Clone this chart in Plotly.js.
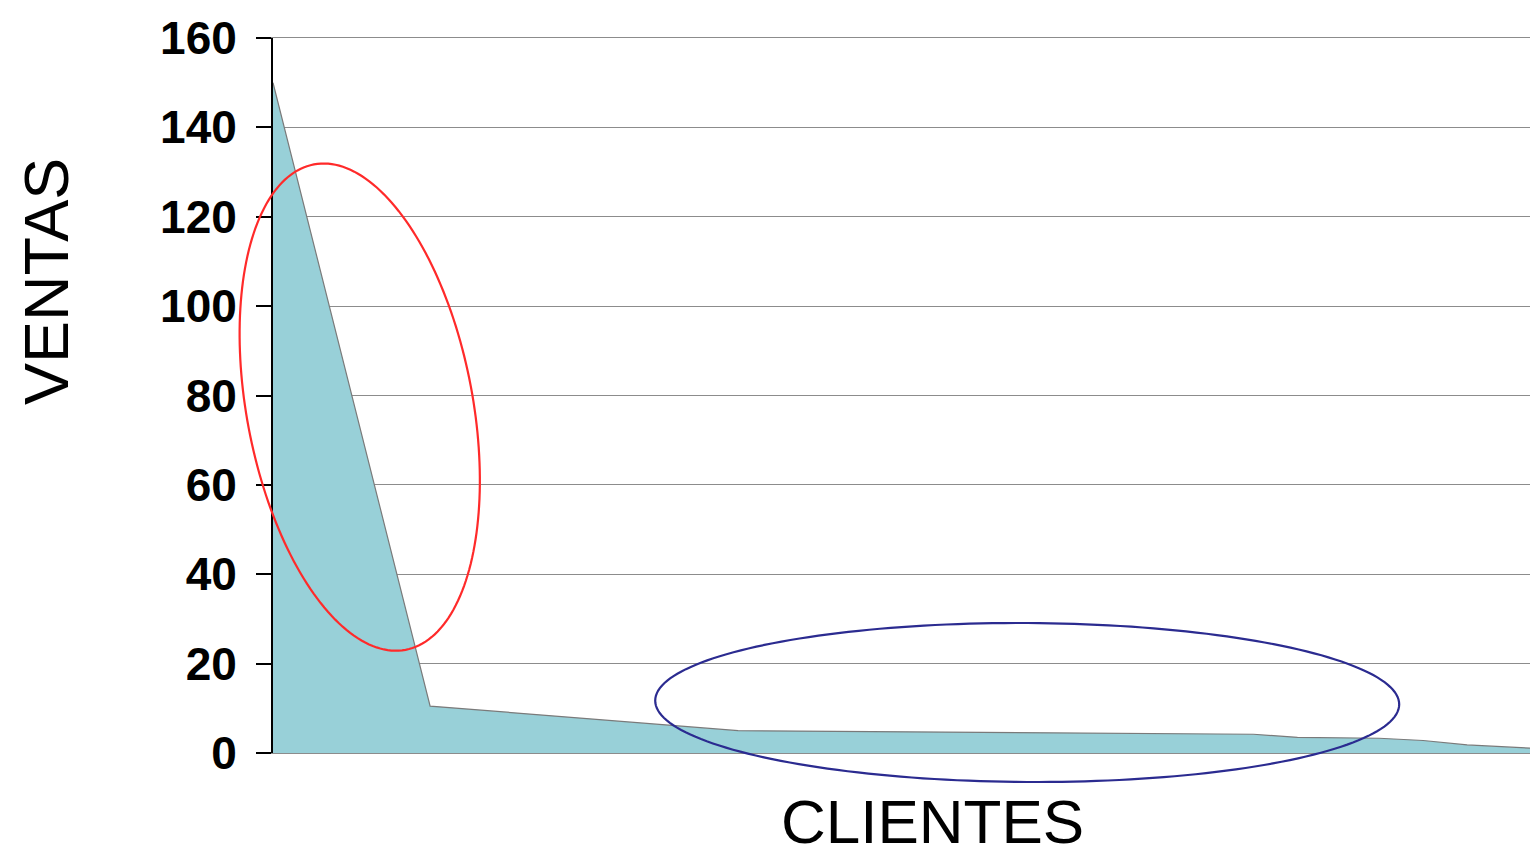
<!DOCTYPE html>
<html>
<head>
<meta charset="utf-8">
<script src="https://cdn.plot.ly/plotly-3.0.1.min.js"></script>
<style>
  html, body { margin: 0; padding: 0; background: #fff; }
  #chart { width: 1531px; height: 857px; }
</style>
</head>
<body>
<div id="chart"></div>
<script>
// Share of clients (%, ranked from largest to smallest buyer) and their sales
const clientesPct = [0, 12.5, 37, 60, 78, 81.5, 88, 91.5, 95, 100];
const ventas = [150, 10.5, 5.0, 4.6, 4.2, 3.5, 3.3, 2.8, 1.8, 1.1];

// Y axis ticks
const yTicks = [0, 20, 40, 60, 80, 100, 120, 140, 160];

// Highlight ellipses: centre in data units, semi-axes in pixels, tilt in degrees
const ellipseTop = { cx: 6.9, cy: 77.4, a: 247, b: 113, tilt: 10.7, color: '#ff2a2a' };
const ellipseTail = { cx: 60, cy: 11.3, a: 372, b: 79.5, tilt: -0.3, color: '#2b2b90' };

const W = 1531, H = 857;
const margin = { l: 273, r: 1, t: 38, b: 104 };
const plotW = W - margin.l - margin.r;
const plotH = H - margin.t - margin.b;
const xRange = [0, 100];
const yRange = [0, 160];

// Closed ellipse path in paper coordinates (paper shapes are not clipped to the plot area).
// 'vertical' puts the major axis along y before the tilt is applied.
function ellipsePath(e, vertical) {
  const cxPaper = (e.cx - xRange[0]) / (xRange[1] - xRange[0]);
  const cyPaper = (e.cy - yRange[0]) / (yRange[1] - yRange[0]);
  const t = e.tilt * Math.PI / 180;
  const rx = vertical ? e.b : e.a;
  const ry = vertical ? e.a : e.b;
  const n = 200;
  let d = '';
  for (let i = 0; i <= n; i++) {
    const th = 2 * Math.PI * i / n;
    const ux = rx * Math.cos(th);
    const uy = ry * Math.sin(th);
    const px = ux * Math.cos(t) - uy * Math.sin(t);
    const py = ux * Math.sin(t) + uy * Math.cos(t);
    const X = cxPaper + px / plotW;
    const Y = cyPaper + py / plotH;
    d += (i === 0 ? 'M' : 'L') + X.toFixed(5) + ',' + Y.toFixed(5);
  }
  return d + 'Z';
}

const font = 'Liberation Sans, Arial, sans-serif';

const trace = {
  x: clientesPct,
  y: ventas,
  type: 'scatter',
  mode: 'lines',
  fill: 'tozeroy',
  fillcolor: 'rgb(152,208,216)',
  line: { color: '#7a7a7a', width: 1.2 },
  hoverinfo: 'skip'
};

const layout = {
  width: W,
  height: H,
  margin: margin,
  paper_bgcolor: '#ffffff',
  plot_bgcolor: '#ffffff',
  showlegend: false,
  xaxis: {
    range: xRange,
    showticklabels: false,
    ticks: '',
    showgrid: false,
    zeroline: false,
    showline: true,
    mirror: true,
    linecolor: '#8c8c8c',
    linewidth: 1
  },
  yaxis: {
    range: yRange,
    tickvals: yTicks,
    ticktext: yTicks.map(String),
    ticks: 'outside',
    ticklen: 15,
    tickwidth: 2,
    tickcolor: '#000',
    ticklabelstandoff: 10,
    tickfont: { family: font, size: 46, color: '#000', weight: 'bold' },
    showgrid: true,
    gridcolor: '#8c8c8c',
    gridwidth: 1,
    zeroline: false,
    showline: true,
    linecolor: '#000',
    linewidth: 2
  },
  annotations: [
    {
      text: 'CLIENTES', xref: 'paper', yref: 'paper',
      x: (932 - margin.l) / plotW, y: -(821 - (H - margin.b)) / plotH,
      xanchor: 'center', yanchor: 'middle', showarrow: false,
      font: { family: font, size: 62, color: '#000' }
    },
    {
      text: 'VENTAS', xref: 'paper', yref: 'paper', textangle: -90,
      x: (46 - margin.l) / plotW, y: ((H - margin.b) - 282) / plotH,
      xanchor: 'center', yanchor: 'middle', showarrow: false,
      font: { family: font, size: 63, color: '#000' }
    }
  ],
  shapes: [
    { type: 'path', xref: 'paper', yref: 'paper', path: ellipsePath(ellipseTop, true),
      line: { color: ellipseTop.color, width: 2.2 }, fillcolor: 'rgba(0,0,0,0)', layer: 'above' },
    { type: 'path', xref: 'paper', yref: 'paper', path: ellipsePath(ellipseTail, false),
      line: { color: ellipseTail.color, width: 2.2 }, fillcolor: 'rgba(0,0,0,0)', layer: 'above' }
  ]
};

Plotly.newPlot('chart', [trace], layout, { staticPlot: true, displayModeBar: false });
</script>
</body>
</html>
